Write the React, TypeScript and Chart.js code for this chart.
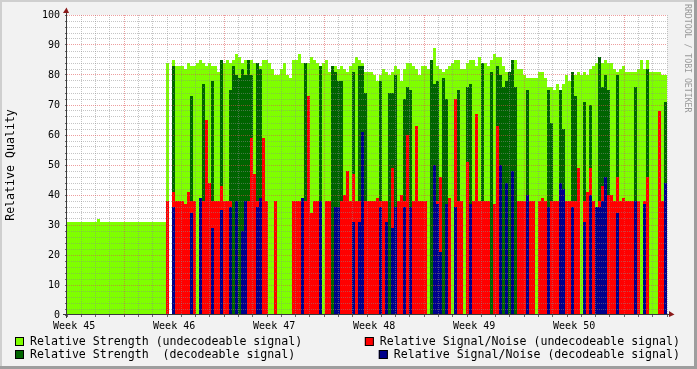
import React, { useEffect, useRef } from 'react';
import { Chart, registerables } from 'chart.js';

Chart.register(...registerables);

// ---------- data ----------
const weekLabels = ['Week 45', 'Week 46', 'Week 47', 'Week 48', 'Week 49', 'Week 50'];
const daysShown = 42; // six weeks
const firstWeekBoundaryDay = 4; // first Monday (major grid) after graph start
const firstWeekLabelDay = 0.5;
const yTickStep = 2;
const yLabelStep = 10;
const yMax = 100;

const legendLeft = ['Relative Strength (undecodeable signal)', 'Relative Strength  (decodeable signal)'];
const legendRight = ['Relative Signal/Noise (undecodeable signal)', 'Relative Signal/Noise (decodeable signal)'];

// Relative Strength (undecodeable signal)
const strengthUndecodeable = [
  31, 31, 31, 31, 31, 31, 31, 31, 31, 31,
  32, 31, 31, 31, 31, 31, 31, 31, 31, 31,
  31, 31, 31, 31, 31, 31, 31, 31, 31, 31,
  31, 31, 31, 84, 0, 85, 83, 83, 83, 82,
  84, 83, 83, 84, 85, 84, 83, 84, 83, 83,
  81, 84, 84, 85, 84, 85, 87, 86, 84, 85,
  85, 85, 84, 84, 83, 85, 85, 84, 82, 80,
  80, 82, 84, 80, 79, 85, 85, 87, 84, 84,
  84, 86, 85, 84, 82, 84, 85, 81, 83, 83,
  82, 83, 82, 81, 83, 84, 86, 85, 84, 81,
  81, 81, 80, 78, 80, 82, 81, 80, 81, 83,
  82, 78, 82, 84, 84, 83, 82, 80, 83, 83,
  82, 85, 89, 83, 82, 81, 82, 83, 84, 85,
  85, 82, 82, 84, 85, 85, 83, 86, 84, 84,
  83, 85, 87, 86, 86, 83, 81, 81, 84, 85,
  82, 82, 80, 79, 79, 79, 79, 81, 81, 79,
  76, 76, 75, 77, 75, 77, 80, 78, 79, 80,
  81, 80, 81, 80, 82, 83, 84, 86, 84, 85,
  84, 84, 82, 81, 82, 83, 81, 81, 81, 81,
  82, 85, 82, 85, 81, 81, 81, 81, 80, 80,
];

// Relative Strength (decodeable signal)
const strengthDecodeable = [
  0, 0, 0, 0, 0, 0, 0, 0, 0, 0,
  0, 0, 0, 0, 0, 0, 0, 0, 0, 0,
  0, 0, 0, 0, 0, 0, 0, 0, 0, 0,
  0, 0, 0, 0, 0, 83, 0, 0, 0, 0,
  0, 73, 0, 0, 0, 77, 0, 0, 78, 0,
  0, 85, 0, 0, 75, 83, 80, 79, 82, 80,
  85, 80, 0, 84, 82, 0, 0, 0, 0, 0,
  0, 0, 0, 0, 0, 0, 0, 0, 0, 84,
  0, 0, 0, 0, 83, 0, 0, 0, 83, 81,
  78, 78, 0, 0, 0, 81, 0, 83, 83, 74,
  0, 0, 0, 0, 78, 0, 0, 74, 74, 80,
  0, 0, 72, 76, 75, 0, 0, 0, 0, 0,
  0, 85, 77, 78, 0, 79, 72, 0, 0, 0,
  75, 0, 0, 76, 77, 0, 0, 0, 84, 0,
  0, 81, 0, 83, 80, 76, 78, 81, 85, 76,
  0, 0, 0, 75, 0, 0, 0, 0, 0, 0,
  75, 64, 0, 0, 75, 62, 0, 0, 81, 73,
  0, 0, 71, 0, 70, 0, 0, 86, 76, 80,
  75, 0, 0, 80, 0, 0, 0, 0, 0, 76,
  0, 0, 0, 82, 0, 0, 0, 0, 0, 71,
];

// Relative Signal/Noise (undecodeable signal)
const snrUndecodeable = [
  0, 0, 0, 0, 0, 0, 0, 0, 0, 0,
  0, 0, 0, 0, 0, 0, 0, 0, 0, 0,
  0, 0, 0, 0, 0, 0, 0, 0, 0, 0,
  0, 0, 0, 38, 0, 41, 38, 38, 38, 37,
  41, 38, 38, 0, 38, 38, 65, 44, 38, 38,
  38, 43, 38, 38, 38, 0, 0, 0, 0, 0,
  38, 59, 47, 38, 38, 59, 38, 0, 0, 38,
  0, 0, 0, 0, 0, 38, 38, 38, 38, 38,
  73, 34, 38, 38, 38, 0, 38, 38, 0, 0,
  0, 38, 40, 48, 38, 47, 38, 38, 0, 38,
  38, 38, 38, 39, 38, 38, 38, 0, 49, 0,
  38, 40, 38, 60, 0, 38, 63, 38, 38, 38,
  0, 0, 0, 38, 46, 0, 0, 39, 0, 72,
  38, 38, 0, 51, 0, 38, 67, 38, 38, 38,
  38, 0, 37, 63, 0, 0, 0, 0, 0, 0,
  38, 38, 38, 0, 38, 38, 0, 38, 39, 38,
  0, 38, 38, 38, 0, 0, 38, 38, 38, 38,
  49, 0, 38, 41, 49, 38, 0, 38, 43, 38,
  40, 40, 38, 46, 38, 39, 38, 38, 38, 0,
  38, 0, 38, 46, 0, 0, 0, 68, 38, 38,
];

// Relative Signal/Noise (decodeable signal)
const snrDecodeable = [
  0, 0, 0, 0, 0, 0, 0, 0, 0, 0,
  0, 0, 0, 0, 0, 0, 0, 0, 0, 0,
  0, 0, 0, 0, 0, 0, 0, 0, 0, 0,
  0, 0, 0, 0, 0, 36, 0, 0, 0, 0,
  0, 34, 0, 0, 39, 0, 0, 0, 29, 0,
  0, 35, 0, 0, 36, 0, 38, 0, 28, 38,
  0, 0, 0, 36, 39, 0, 0, 0, 0, 0,
  0, 0, 0, 0, 0, 0, 0, 0, 39, 0,
  0, 0, 0, 0, 38, 0, 0, 0, 0, 36,
  36, 0, 0, 0, 0, 31, 0, 31, 61, 0,
  0, 0, 0, 0, 36, 0, 31, 0, 29, 36,
  0, 0, 36, 0, 36, 0, 0, 0, 0, 0,
  0, 0, 50, 37, 21, 0, 37, 0, 0, 36,
  0, 0, 0, 0, 37, 0, 0, 0, 0, 0,
  0, 0, 0, 0, 50, 0, 44, 0, 48, 0,
  0, 0, 0, 40, 0, 0, 0, 0, 0, 0,
  36, 0, 0, 0, 44, 42, 0, 0, 36, 0,
  0, 0, 31, 0, 40, 0, 36, 36, 38, 46,
  0, 0, 0, 34, 0, 0, 0, 0, 0, 38,
  0, 0, 37, 0, 0, 0, 0, 0, 0, 44,
];

// ---------- styles ----------
const COLORS = {
  strengthUndecodeable: '#7FFF00',
  strengthDecodeable: '#006400',
  snrUndecodeable: '#FF0000',
  snrDecodeable: '#00008B',
};
const MINOR_GRID = 'rgba(140,140,140,0.5)';
const MAJOR_GRID = 'rgba(222,79,79,0.55)';
const FONT = '"DejaVu Sans Mono", monospace';

function toPoints(values: number[]) {
  const step = daysShown / values.length;
  const pts = values.map((v, i) => ({ x: i * step, y: v }));
  pts.push({ x: values.length * step, y: values[values.length - 1] });
  return pts;
}

function areaDataset(label: string, values: number[], color: string, order: number) {
  return {
    label,
    data: toPoints(values),
    backgroundColor: color,
    borderColor: 'transparent',
    borderWidth: 0,
    pointRadius: 0,
    pointHoverRadius: 0,
    fill: 'origin',
    stepped: 'before' as const,
    tension: 0,
    order,
  };
}

const xTickDays: number[] = [];
for (let k = 0; k <= daysShown * 2; k++) xTickDays.push(k / 2);
const yTicks: number[] = [];
for (let v = 0; v <= yMax; v += yTickStep) yTicks.push(v);

const rrdPlugin = {
  id: 'rrdFrame',
  beforeDraw(chart: any) {
    const { ctx, width, height, chartArea } = chart;
    ctx.save();
    ctx.fillStyle = '#f2f2f2';
    ctx.fillRect(0, 0, width, height);
    ctx.fillStyle = '#cfcfcf';
    ctx.fillRect(0, 0, width, 2);
    ctx.fillRect(0, 0, 2, height);
    ctx.fillStyle = '#9e9e9e';
    ctx.fillRect(0, height - 3, width, 3);
    ctx.fillRect(width - 3, 0, 3, height);
    ctx.fillStyle = '#ffffff';
    ctx.fillRect(chartArea.left, chartArea.top, chartArea.right - chartArea.left, chartArea.bottom - chartArea.top);
    ctx.restore();
  },
  afterDraw(chart: any) {
    const { ctx, chartArea } = chart;
    const L = chartArea.left;
    const B = chartArea.bottom;
    const R = chartArea.right;
    const T = chartArea.top;
    ctx.save();
    // axes
    ctx.fillStyle = '#3a3a3a';
    ctx.fillRect(L - 1, T - 3, 1, B - T + 6);
    ctx.fillRect(L - 4, B - 1, R - L + 6, 1);
    // arrows
    ctx.fillStyle = '#8b1a1a';
    ctx.beginPath();
    ctx.moveTo(L - 4, T - 2);
    ctx.lineTo(L + 2, T - 2);
    ctx.lineTo(L - 0.5, T - 7.5);
    ctx.closePath();
    ctx.fill();
    ctx.beginPath();
    ctx.moveTo(R + 2, B - 4);
    ctx.lineTo(R + 2, B + 2);
    ctx.lineTo(R + 7.5, B - 0.5);
    ctx.closePath();
    ctx.fill();

    // y title
    ctx.fillStyle = '#000';
    ctx.font = '11.6px ' + FONT;
    ctx.save();
    ctx.translate(11, (T + B) / 2);
    ctx.rotate(-Math.PI / 2);
    ctx.textAlign = 'center';
    ctx.textBaseline = 'middle';
    ctx.fillText('Relative Quality', 0, 0);
    ctx.restore();

    // watermark
    ctx.save();
    ctx.translate(687, 4);
    ctx.rotate(Math.PI / 2);
    ctx.font = '8.2px ' + FONT;
    ctx.fillStyle = '#999999';
    ctx.textAlign = 'left';
    ctx.textBaseline = 'middle';
    ctx.fillText('RRDTOOL / TOBI OETIKER', 0, 0);
    ctx.restore();

    // legend
    ctx.font = '11.6px ' + FONT;
    ctx.textBaseline = 'middle';
    const rows = [341.5, 354.5];
    const box = (x: number, y: number, color: string) => {
      ctx.fillStyle = color;
      ctx.fillRect(x, y - 4.5, 9, 9);
      ctx.strokeStyle = '#000';
      ctx.lineWidth = 1;
      ctx.strokeRect(x + 0.5, y - 4, 8, 8);
    };
    const leftColors = [COLORS.strengthUndecodeable, COLORS.strengthDecodeable];
    const rightColors = [COLORS.snrUndecodeable, COLORS.snrDecodeable];
    legendLeft.forEach((t, k) => {
      box(15, rows[k], leftColors[k]);
      ctx.fillStyle = '#000';
      ctx.textAlign = 'left';
      ctx.fillText(t, 30, rows[k]);
    });
    legendRight.forEach((t, k) => {
      const w = ctx.measureText(t).width;
      const textStart = 680 - w;
      box(textStart - 15, rows[k], rightColors[k]);
      ctx.fillStyle = '#000';
      ctx.textAlign = 'left';
      ctx.fillText(t, textStart, rows[k]);
    });
    ctx.restore();
  },
};

export default function App() {
  const ref = useRef<HTMLCanvasElement>(null);
  useEffect(() => {
    if (!ref.current) return;
    const chart = new Chart(ref.current, {
      type: 'line',
      data: {
        datasets: [
          areaDataset(legendRight[1], snrDecodeable, COLORS.snrDecodeable, 1),
          areaDataset(legendRight[0], snrUndecodeable, COLORS.snrUndecodeable, 2),
          areaDataset(legendLeft[1], strengthDecodeable, COLORS.strengthDecodeable, 3),
          areaDataset(legendLeft[0], strengthUndecodeable, COLORS.strengthUndecodeable, 4),
        ] as any,
      },
      options: {
        responsive: false,
        animation: false,
        events: [],
        layout: { padding: { left: 0, top: 15, right: 30, bottom: 0 } },
        plugins: {
          legend: { display: false },
          tooltip: { enabled: false },
          title: { display: false },
        },
        scales: {
          x: {
            type: 'linear',
            min: 0,
            max: daysShown,
            afterBuildTicks: (axis: any) => {
              axis.ticks = xTickDays.map((v) => ({ value: v }));
            },
            afterFit: (axis: any) => {
              axis.height = 54;
            },
            grid: {
              z: 1,
              lineWidth: 1,
              drawTicks: true,
              tickLength: 2,
              color: (c: any) => {
                const v = c.tick ? c.tick.value : 0;
                if (v % 1 !== 0 || v === 0) return 'transparent';
                return (v - firstWeekBoundaryDay) % 7 === 0 ? MAJOR_GRID : MINOR_GRID;
              },
              tickColor: (c: any) => {
                const v = c.tick ? c.tick.value : 0;
                return v % 1 === 0 ? '#666' : 'transparent';
              },
            },
            border: { display: false, dash: [1, 1] },
            ticks: {
              autoSkip: false,
              maxRotation: 0,
              minRotation: 0,
              padding: 3,
              color: '#000',
              font: { family: FONT, size: 10 },
              callback: (value: any) => {
                const idx = (Number(value) - firstWeekLabelDay) / 7;
                if (Number.isInteger(idx) && idx >= 0 && idx < weekLabels.length) return weekLabels[idx];
                return '';
              },
            },
          },
          y: {
            type: 'linear',
            min: 0,
            max: yMax,
            afterBuildTicks: (axis: any) => {
              axis.ticks = yTicks.map((v) => ({ value: v }));
            },
            afterFit: (axis: any) => {
              axis.width = 67;
            },
            grid: {
              z: 1,
              lineWidth: 1,
              drawTicks: true,
              tickLength: 2,
              color: (c: any) => {
                const v = c.tick ? c.tick.value : 0;
                if (v === 0) return 'transparent';
                return v % yLabelStep === 0 ? MAJOR_GRID : MINOR_GRID;
              },
              tickColor: '#666',
            },
            border: { display: false, dash: [1, 1] },
            ticks: {
              autoSkip: false,
              padding: 5,
              color: '#000',
              font: { family: FONT, size: 10 },
              callback: (value: any) => (Number(value) % yLabelStep === 0 ? String(value) : ''),
            },
          },
        },
      } as any,
      plugins: [rrdPlugin],
    });
    return () => chart.destroy();
  }, []);
  return (
    <div style={{ position: 'fixed', left: 0, top: 0, width: 697, height: 369 }}>
      <canvas ref={ref} width={697} height={369} style={{ display: 'block', width: 697, height: 369 }} />
    </div>
  );
}
